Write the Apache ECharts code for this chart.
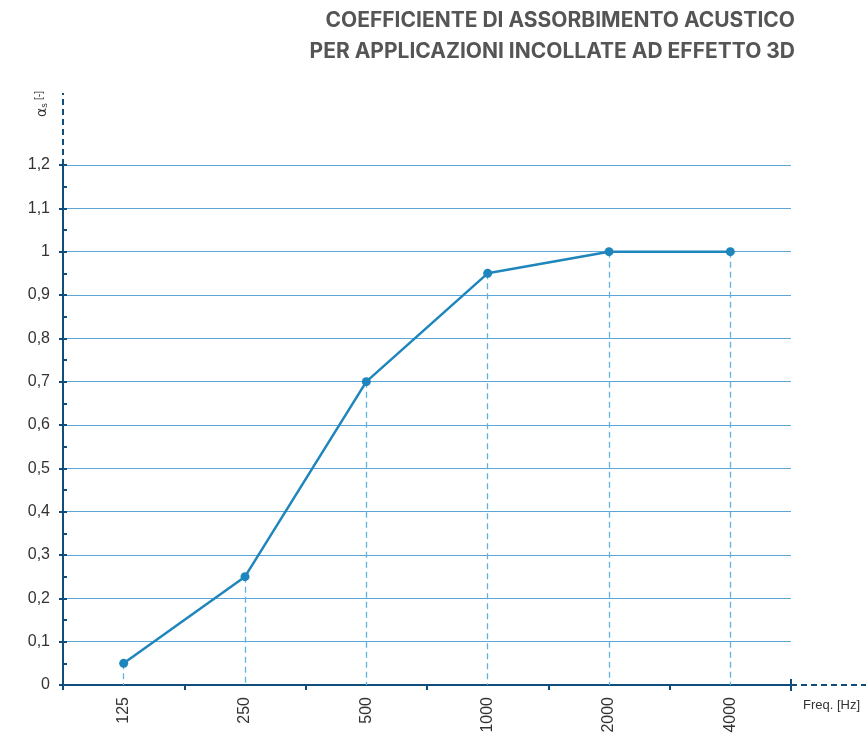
<!DOCTYPE html>
<html lang="it">
<head>
<meta charset="utf-8">
<title>Coefficiente di assorbimento acustico</title>
<script src="https://cdn.jsdelivr.net/npm/echarts@6/dist/echarts.min.js"></script>
<style>
  html, body { margin: 0; padding: 0; background: #fff; }
  #main { width: 866px; height: 736px; }
</style>
</head>
<body>
<div id="main"></div>
<script>
// frequenze (Hz)
var freqs = ['125', '250', '500', '1000', '2000', '4000'];
// coefficiente alfa_s
var alphaS = [0.05, 0.25, 0.70, 0.95, 1.00, 1.00];
// asse y
var yMin = 0, yMax = 1.2, yStep = 0.1;
// titolo (due righe, allineate a destra)
var titleLines = ['COEFFICIENTE DI ASSORBIMENTO ACUSTICO', 'PER APPLICAZIONI INCOLLATE AD EFFETTO 3D'];

var GRID = { left: 63, right: 75, top: 165, bottom: 51 };
var AXIS = '#0f4d7d';
var LABEL = '#333333';
var FONT = 'Liberation Sans';

var chart = echarts.init(document.getElementById('main'));

var drops = freqs.map(function (f, i) {
  return [{ coord: [f, alphaS[i]] }, { coord: [f, 0] }];
});

var titles = titleLines.map(function (t, i) {
  return {
    text: t,
    right: 71,
    top: 10 + i * 31,
    padding: 0,
    textStyle: { fontFamily: 'Inter', fontWeight: 'bold', fontSize: 21, color: '#555555' }
  };
});

var option = {
  animation: false,
  title: titles,
  grid: { left: GRID.left, right: GRID.right, top: GRID.top, bottom: GRID.bottom },
  xAxis: {
    type: 'category',
    data: freqs,
    boundaryGap: true,
    name: 'Freq. [Hz]',
    nameLocation: 'end',
    nameGap: 12,
    nameTextStyle: { fontFamily: FONT, fontSize: 13, color: LABEL, verticalAlign: 'top', padding: [14, 0, 0, 0] },
    axisLine: { lineStyle: { color: AXIS, width: 2 } },
    axisTick: { show: true, alignWithLabel: false, length: 5, lineStyle: { color: AXIS, width: 2 } },
    axisLabel: { rotate: 90, margin: 12, fontFamily: FONT, fontSize: 16, color: LABEL },
    splitLine: { show: false }
  },
  yAxis: [{
    type: 'value',
    min: yMin, max: yMax, interval: yStep,
    axisLine: { show: true, lineStyle: { color: AXIS, width: 2 } },
    axisTick: { show: true, inside: true, length: 4, lineStyle: { color: AXIS, width: 2 } },
    minorTick: { show: true, splitNumber: 2, length: 4, lineStyle: { color: AXIS, width: 2 } },
    axisLabel: {
      margin: 13, fontFamily: FONT, fontSize: 16, color: LABEL,
      formatter: function (v) { return String(Math.round(v * 10) / 10).replace('.', ','); }
    },
    splitLine: { show: true, lineStyle: { color: '#5ba6d4', width: 1.2 } }
  }, {
    type: 'value',
    position: 'left',
    min: yMin, max: yMax, interval: yStep,
    axisLine: { show: false },
    axisTick: { show: true, inside: false, length: 4, lineStyle: { color: AXIS, width: 2 } },
    axisLabel: { show: false },
    splitLine: { show: false }
  }],
  series: [{
    type: 'line',
    data: alphaS,
    symbol: 'circle',
    symbolSize: 9,
    lineStyle: { color: '#1f86bd', width: 2.5 },
    itemStyle: { color: '#1f86bd' },
    z: 5,
    markLine: {
      silent: true,
      symbol: 'none',
      label: { show: false },
      lineStyle: { color: '#62b2de', type: [6, 4], width: 1.3 },
      data: drops
    }
  }]
};

chart.setOption(option);

// prolungamenti tratteggiati degli assi e nome dell'asse y
var y0 = chart.convertToPixel({ yAxisIndex: 0 }, yMin);
var yTop = chart.convertToPixel({ yAxisIndex: 0 }, yMax);
var xRight = 866 - GRID.right;
chart.setOption({
  graphic: [
    {
      type: 'line', silent: true,
      shape: { x1: GRID.left, y1: yTop, x2: GRID.left, y2: 93 },
      style: { stroke: AXIS, lineWidth: 2, lineDash: [6, 4] }
    },
    {
      type: 'line', silent: true,
      shape: { x1: xRight, y1: y0, x2: 866, y2: y0 },
      style: { stroke: AXIS, lineWidth: 2, lineDash: [6, 4] }
    },
    {
      type: 'line', silent: true,
      shape: { x1: xRight, y1: y0 - 6, x2: xRight, y2: y0 + 6 },
      style: { stroke: AXIS, lineWidth: 2 }
    },
    {
      type: 'text', silent: true,
      x: 42, y: 104, rotation: Math.PI / 2,
      style: {
        text: '{a|α}{s|s} {b|[-]}',
        align: 'center', verticalAlign: 'middle',
        fill: LABEL,
        rich: {
          a: { fontFamily: 'DejaVu Sans', fontSize: 14, fill: LABEL },
          s: { fontFamily: FONT, fontSize: 9, fill: LABEL, verticalAlign: 'bottom', padding: [6, 0, 0, 0] },
          b: { fontFamily: FONT, fontSize: 10, fill: LABEL, verticalAlign: 'top' }
        }
      }
    }
  ]
});
</script>
</body>
</html>
